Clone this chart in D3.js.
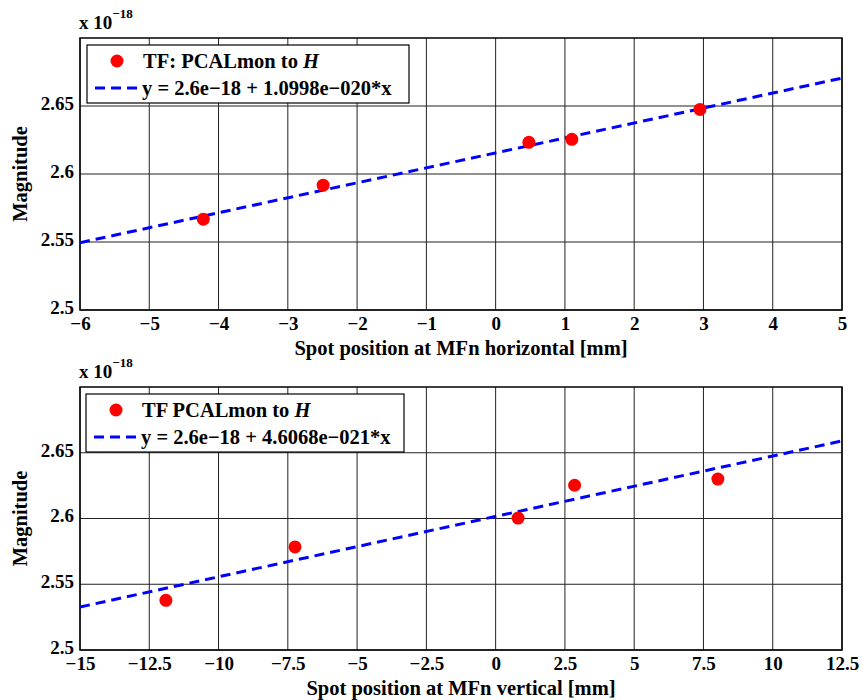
<!DOCTYPE html>
<html><head><meta charset="utf-8">
<script src="https://cdn.jsdelivr.net/npm/d3@7"></script>
<style>body{margin:0;background:#fff}svg{display:block}svg text{font-family:"Liberation Serif","Times New Roman",Times,"Nimbus Roman","DejaVu Serif",serif !important;font-weight:bold}</style>
</head><body><svg id="c" width="864" height="700"></svg>
<script>
// Top panel data (values in units of 1e-18)
const topX = [-4.22, -2.49, 0.48, 1.10, 2.95];
const topY = [2.5668, 2.5918, 2.6233, 2.6255, 2.6475];
const topFitX = [-6, 5];
const topFitY = [2.5495, 2.6705];
const topXTicks = [-6, -5, -4, -3, -2, -1, 0, 1, 2, 3, 4, 5];
const topXTickLabels = ["\u22126","\u22125","\u22124","\u22123","\u22122","\u22121","0","1","2","3","4","5"];
// Bottom panel data
const botX = [-11.9, -7.24, 0.81, 2.85, 8.02];
const botY = [2.5378, 2.5784, 2.6003, 2.6253, 2.6300];
const botFitX = [-15, 12.5];
const botFitY = [2.5327, 2.6590];
const botXTicks = [-15, -12.5, -10, -7.5, -5, -2.5, 0, 2.5, 5, 7.5, 10, 12.5];
const botXTickLabels = ["\u221215","\u221212.5","\u221210","\u22127.5","\u22125","\u22122.5","0","2.5","5","7.5","10","12.5"];
const yTicks = [2.5, 2.55, 2.6, 2.65];
const yTickLabels = ["2.5","2.55","2.6","2.65"];

const FS = 19, LFS = 20.5, GFS = 20.5;
const svg = d3.select("#c");

function panel(o){
  const g = svg.append("g");
  const x = d3.scaleLinear().domain(o.xdom).range([80, 842]);
  const y = d3.scaleLinear().domain([2.5, 2.7]).range([o.bottom, o.top]);
  g.selectAll(".gx").data(o.xticks).enter().append("line")
    .attr("x1", d=>x(d)).attr("x2", d=>x(d)).attr("y1", o.top).attr("y2", o.bottom)
    .attr("stroke", "#222").attr("stroke-width", 1);
  g.selectAll(".gy").data(yTicks).enter().append("line")
    .attr("y1", d=>y(d)).attr("y2", d=>y(d)).attr("x1", 80).attr("x2", 842)
    .attr("stroke", "#222").attr("stroke-width", 1);
  const xa = d3.axisBottom(x).tickValues(o.xticks).tickFormat((d,i)=>o.xlabels[i]).tickSize(0).tickPadding(7);
  const xg = g.append("g").attr("transform", `translate(0,${o.bottom})`).call(xa);
  xg.attr("font-family", null).attr("font-size", null);
  xg.select(".domain").remove();
  xg.selectAll("text").attr("font-size", FS).attr("fill", "#000");
  const ya = d3.axisLeft(y).tickValues(yTicks).tickFormat((d,i)=>yTickLabels[i]).tickSize(0).tickPadding(6);
  const yg = g.append("g").attr("transform", "translate(80,0)").call(ya);
  yg.attr("font-family", null).attr("font-size", null);
  yg.select(".domain").remove();
  yg.selectAll("text").attr("font-size", FS).attr("fill", "#000").attr("dy","0.18em");
  g.append("rect").attr("x", 80).attr("y", o.top).attr("width", 762).attr("height", o.bottom - o.top)
    .attr("fill", "none").attr("stroke", "#000").attr("stroke-width", 1.5);
  const cid = "clip" + o.top;
  svg.append("clipPath").attr("id", cid).append("rect").attr("x", 80).attr("y", o.top).attr("width", 762).attr("height", o.bottom - o.top);
  const line = d3.line().x(d=>x(d[0])).y(d=>y(d[1]));
  g.append("path").datum(o.fitX.map((v,i)=>[v, o.fitY[i]])).attr("d", line)
    .attr("fill","none").attr("stroke","#0000ff").attr("stroke-width",3).attr("stroke-dasharray","10,6")
    .attr("clip-path", `url(#${cid})`);
  g.selectAll(".pt").data(o.px.map((v,i)=>[v, o.py[i]])).enter().append("circle")
    .attr("cx", d=>x(d[0])).attr("cy", d=>y(d[1])).attr("r", 6.5).attr("fill", "#ff0000");
  const m = g.append("text").attr("x", 79).attr("y", o.top - 9).attr("font-size", FS);
  m.append("tspan").text("x 10");
  m.append("tspan").attr("dy", -11).attr("font-size", 13).text("\u221218");
  g.append("text").attr("x", 461).attr("y", o.bottom + 45).attr("text-anchor","middle").attr("font-size",LFS).text(o.xlabel);
  g.append("text").attr("transform", `translate(27,${(o.top+o.bottom)/2}) rotate(-90)`).attr("text-anchor","middle").attr("font-size",LFS).text("Magnitude");
  const lg = g.append("g").attr("transform", `translate(${o.lx},${o.top+7})`);
  lg.append("rect").attr("x",0).attr("y",0).attr("width", o.lw).attr("height",58).attr("fill","#fff").attr("stroke","#000").attr("stroke-width",1.2);
  lg.append("circle").attr("cx",30).attr("cy",16).attr("r",6.5).attr("fill","#ff0000");
  lg.append("line").attr("x1",8).attr("x2",52).attr("y1",43).attr("y2",43).attr("stroke","#0000ff").attr("stroke-width",3).attr("stroke-dasharray","10,6");
  const t1 = lg.append("text").attr("x",56).attr("y",23).attr("font-size",GFS);
  t1.append("tspan").text(o.leg1);
  t1.append("tspan").attr("font-style","italic").text("H");
  lg.append("text").attr("x",55).attr("y",50).attr("font-size",GFS).text(o.leg2);
}

panel({top:38, bottom:310, xdom:[-6,5], xticks:topXTicks, xlabels:topXTickLabels, px:topX, py:topY,
  fitX:topFitX, fitY:topFitY, xlabel:"Spot position at MFn horizontal [mm]", lx:87, lw:322,
  leg1:"TF: PCALmon to ", leg2:"y = 2.6e\u221218 + 1.0998e\u2212020*x"});
panel({top:387, bottom:650, xdom:[-15,12.5], xticks:botXTicks, xlabels:botXTickLabels, px:botX, py:botY,
  fitX:botFitX, fitY:botFitY, xlabel:"Spot position at MFn vertical [mm]", lx:86, lw:318,
  leg1:"TF PCALmon to ", leg2:"y = 2.6e\u221218 + 4.6068e\u2212021*x"});
</script></body></html>
